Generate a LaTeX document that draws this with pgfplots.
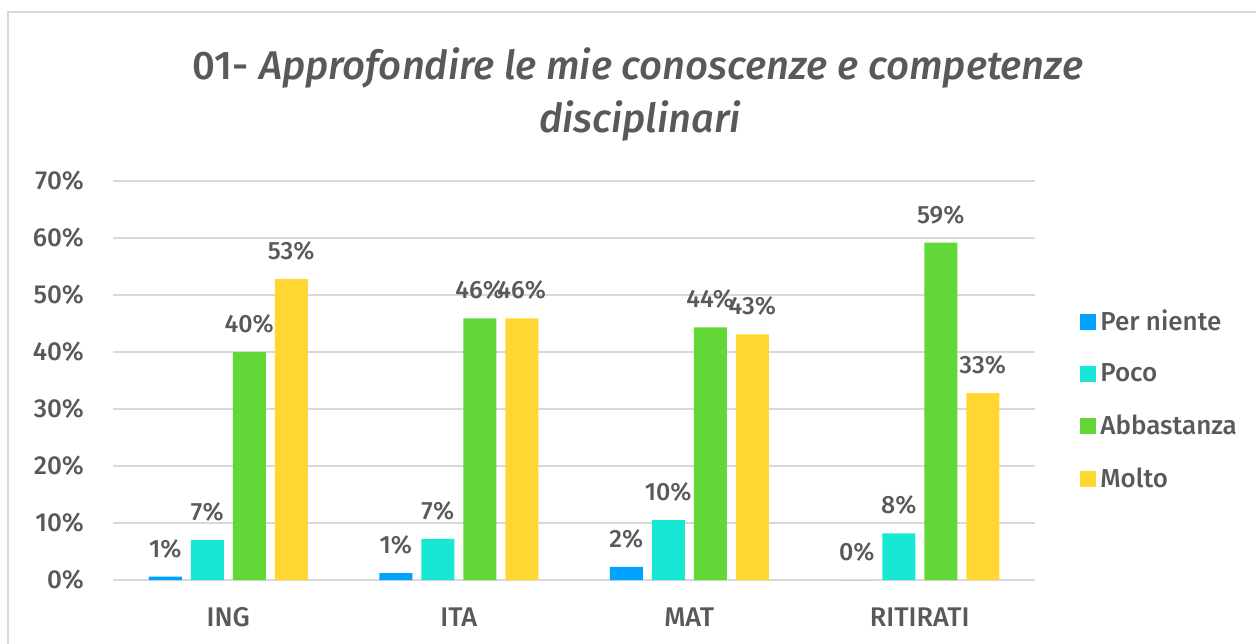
\documentclass[border=0pt]{standalone}
\usepackage{fontspec}
\setmainfont{Fira Sans Medium}[ItalicFont={Fira Sans Medium Italic}]
\usepackage{pgfplots}
\pgfplotsset{compat=1.18}
\definecolor{txt}{HTML}{595959}
\definecolor{grd}{HTML}{D9D9D9}
\definecolor{c1}{HTML}{00A2FF}
\definecolor{c2}{HTML}{17E8D3}
\definecolor{c3}{HTML}{62D838}
\definecolor{c4}{HTML}{FFD632}
\pgfplotsset{sqlegend/.style={legend image code/.code={\fill[##1] (0pt,-4pt) rectangle (8pt,4pt);}}}
\begin{document}
\begin{tikzpicture}[x=0.5pt,y=0.5pt]
\useasboundingbox (0,0) rectangle (1256,643);
\draw[grd, line width=1pt] (8,-10) -- (8,631) -- (1270,631);
\node[txt, font=\fontsize{20}{24}\selectfont] at (638,575) {01- \textit{Approfondire le mie conoscenze e competenze}};
\node[txt, font=\fontsize{20}{24}\selectfont] at (640,522) {\textit{disciplinari}};
\begin{axis}[
  at={(56.5pt,31.5pt)}, anchor=south west, scale only axis,
  width=461pt, height=199.5pt,
  ymin=0, ymax=70, xmin=-0.5, xmax=3.5,
  ybar=4.5pt, bar width=16.5pt,
  axis line style={draw=none},
  ytick={0,10,20,30,40,50,60,70},
  yticklabel={\pgfmathprintnumber{\tick}\%},
  yticklabel style={anchor=east, xshift=-11pt, font=\fontsize{13}{15}\selectfont, text=txt},
  /pgf/number format/assume math mode=true,
  ytick style={draw=none},
  ymajorgrids, grid style={grd, line width=0.8pt},
  xtick={0,1,2,3},
  xticklabels={ING,ITA,MAT,RITIRATI},
  xtick style={draw=none},
  xticklabel style={anchor=center, yshift=-14.5pt, font=\fontsize{13.5}{15}\selectfont, text=txt},
  extra x ticks={-0.5,0.5,1.5,2.5,3.5},
  extra x tick labels={},
  extra x tick style={grid=none, tick style={draw=grd, line width=0.8pt}, major tick length=5pt, tick align=outside},
  point meta=explicit symbolic,
  nodes near coords={\pgfplotspointmeta\%},
  every node near coord/.append style={anchor=center, yshift=14pt, font=\fontsize{12.5}{14}\selectfont, text=txt},
  legend cell align=left,
  legend style={at={(1,0.451)}, anchor=west, xshift=22.5pt, draw=none, fill=none,
    font=\fontsize{13}{15}\selectfont, text=txt, row sep=11pt, inner sep=0pt},
]
\addplot[fill=c1, draw=none, sqlegend] coordinates {(0,0.6) [1] (1,1.2) [1] (2,2.3) [2] (3,0) [0]};
\addplot[fill=c2, draw=none, sqlegend] coordinates {(0,7.0) [7] (1,7.2) [7] (2,10.5) [10] (3,8.2) [8]};
\addplot[fill=c3, draw=none, sqlegend] coordinates {(0,40.0) [40] (1,45.9) [46] (2,44.3) [44] (3,59.2) [59]};
\addplot[fill=c4, draw=none, sqlegend] coordinates {(0,52.8) [53] (1,45.9) [46] (2,43.1) [43] (3,32.8) [33]};
\legend{Per niente,Poco,Abbastanza,Molto}
\end{axis}
\end{tikzpicture}
\end{document}
